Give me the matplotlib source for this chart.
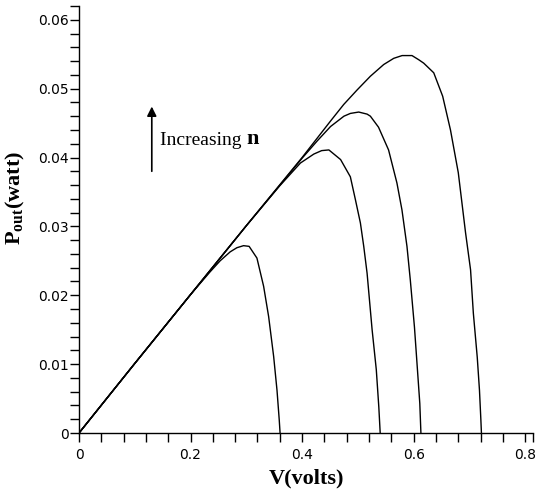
import numpy as np
import matplotlib
matplotlib.use("Agg")
import matplotlib.pyplot as plt
from matplotlib.ticker import MultipleLocator, FixedLocator, FuncFormatter

plt.rcParams["mathtext.fontset"] = "custom"
plt.rcParams["mathtext.rm"] = "Liberation Serif:bold"

# === Courbes P(V), une par valeur de n ===
v1 = [0, 0.1, 0.2, 0.235, 0.253, 0.271, 0.283, 0.295, 0.305, 0.319, 0.331,
      0.340, 0.349, 0.355, 0.359, 0.3605]
p1 = [0, 0.0101, 0.0201, 0.0234, 0.0250, 0.0263, 0.0269, 0.0272, 0.0271,
      0.0254, 0.0213, 0.0169, 0.0111, 0.0062, 0.0019, 0]

v2 = [0, 0.1, 0.2, 0.3, 0.36, 0.397, 0.421, 0.435, 0.448, 0.469, 0.4865,
      0.4955, 0.5045, 0.5105, 0.5165, 0.5255, 0.533, 0.5375, 0.540]
p2 = [0, 0.0101, 0.0201, 0.0301, 0.0359, 0.0392, 0.0405, 0.0410, 0.0411,
      0.0397, 0.0372, 0.0339, 0.0305, 0.0271, 0.0232, 0.0150, 0.0092,
      0.0038, 0]

v3 = [0, 0.1, 0.2, 0.3, 0.4, 0.427, 0.451, 0.475, 0.4865, 0.5015, 0.5165,
      0.5224, 0.537, 0.555, 0.570, 0.579, 0.588, 0.594, 0.6014, 0.606,
      0.611, 0.613]
p3 = [0, 0.0101, 0.0201, 0.0301, 0.0399, 0.0424, 0.0445, 0.0460, 0.0464,
      0.0466, 0.0463, 0.0460, 0.0444, 0.0411, 0.0363, 0.0324, 0.0271,
      0.0222, 0.0154, 0.0101, 0.0043, 0]

v4 = [0, 0.1, 0.2, 0.3, 0.4, 0.451, 0.4746, 0.4985, 0.5224, 0.5463, 0.5643,
      0.5793, 0.597, 0.609, 0.618, 0.636, 0.652, 0.666, 0.680, 0.693,
      0.702, 0.707, 0.714, 0.718, 0.7205, 0.7215]
p4 = [0, 0.0101, 0.0201, 0.0301, 0.0400, 0.0453, 0.0477, 0.0498, 0.0518,
      0.0535, 0.0544, 0.0548, 0.0548, 0.0542, 0.0537, 0.0523, 0.0489,
      0.0440, 0.0378, 0.0291, 0.0237, 0.0174, 0.0110, 0.0062, 0.0019, 0]

curves = [(v1, p1), (v2, p2), (v3, p3), (v4, p4)]

X_MAX = 0.814
Y_MAX = 0.062

fig = plt.figure(figsize=(5.49, 4.90), dpi=100)
ax = fig.add_axes([0.1439, 0.1163, 0.8270, 0.8715])

for v, p in curves:
    ax.plot(v, p, color="black", lw=1.0)

ax.set_xlim(0, X_MAX)
ax.set_ylim(0, Y_MAX)

ax.spines["top"].set_visible(False)
ax.spines["right"].set_visible(False)
for s in ("left", "bottom"):
    ax.spines[s].set_linewidth(1.0)

ax.xaxis.set_major_locator(MultipleLocator(0.2))
ax.yaxis.set_major_locator(MultipleLocator(0.01))
ax.xaxis.set_minor_locator(FixedLocator(list(np.arange(0, 0.8, 0.04)) + [X_MAX]))
ax.yaxis.set_minor_locator(FixedLocator(list(np.arange(0, 0.06, 0.002)) + [Y_MAX]))

fmt = FuncFormatter(lambda val, pos: "0" if abs(val) < 1e-12 else "%g" % val)
ax.xaxis.set_major_formatter(fmt)
ax.yaxis.set_major_formatter(fmt)

ax.tick_params(which="both", direction="out", length=6.5, width=1.0)
ax.tick_params(axis="y", which="major", pad=1, labelsize=10)
ax.tick_params(axis="x", which="major", pad=4, labelsize=10)

ax.set_xlabel("V(volts)", family="Liberation Serif", weight="bold", fontsize=16)
ax.set_ylabel("P$_{\\rm out}$(watt)", family="Liberation Serif", weight="bold",
              fontsize=16)
ax.xaxis.set_label_coords(0.5, -0.083)
ax.yaxis.set_label_coords(-0.114, 0.55)

# === Flèche et annotation ===
ax.annotate("", xy=(0.1305, 0.0474), xytext=(0.1305, 0.0380),
            arrowprops=dict(arrowstyle="-|>", color="black", lw=1.2,
                            mutation_scale=14, shrinkA=0, shrinkB=0))
t = ax.text(0.1454, 0.0418, "Increasing ", family="Liberation Serif",
            fontsize=14, va="baseline", ha="left")
ax.annotate("n", xycoords=t, xy=(1, 0), va="bottom", ha="left",
            family="Liberation Serif", weight="bold", fontsize=16)

fig.savefig("out.png", dpi=100)
